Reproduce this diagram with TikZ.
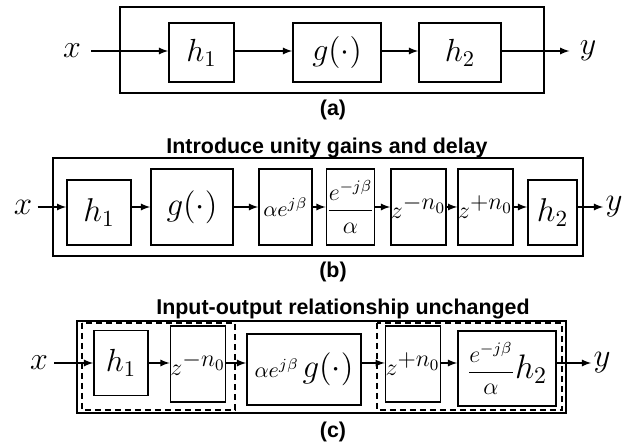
\RequirePackage{fix-cm}
\documentclass[tikz,border=0pt]{standalone}
\usepackage{amsmath}
\usepackage{fontspec}
\setsansfont{Liberation Sans}
\usetikzlibrary{arrows,positioning}
\newcommand{\fsz}[1]{\fontsize{#1}{#1}\selectfont}

\tikzset{
  blk/.style={draw, line width=0.8pt, inner sep=0pt},
  sig/.style={inner sep=2pt},
  ttl/.style={font=\sffamily\bfseries\fsz{10.7}},
  enc/.style={line width=1pt},
  grp/.style={line width=0.8pt, dash pattern=on 3pt off 2pt},
  flow/.style={->, >=latex, line width=0.6pt}
}

\begin{document}
\begin{tikzpicture}[x=0.5pt,y=-0.5pt]
  \useasboundingbox (0,0) rectangle (629,442);

  %%% (a) original chain
  \draw[enc] (120,7) rectangle (544,93) ;  %outer box
  \node[sig, font=\fsz{16}, inner sep=5pt] (xa) at (72,51) {$x$};
  \node[blk, minimum width=32.5pt, minimum height=29.5pt, font=\fsz{16}] (h1a) at (201.5,52.5) {$h_1$};
  \node[blk, minimum width=44pt, minimum height=29.5pt, font=\fsz{16}] (ga) at (337,52.5) {$g(\cdot)$};
  \node[blk, minimum width=41pt, minimum height=29.5pt, font=\fsz{16}] (h2a) at (460,52.5) {$h_2$};
  \node[sig, font=\fsz{16}, inner sep=5pt] (ya) at (588,51) {$y$};
  \draw[flow] (xa) -- (xa -| h1a.west);
  \draw[flow] (h1a.east |- xa) -- (xa -| ga.west);
  \draw[flow] (ga.east |- xa) -- (xa -| h2a.west);
  \draw[flow] (h2a.east |- ya) -- (ya);
  \node[ttl] (lba) at (333,110) {(a)};

  %%% (b) unity gains and delay
  \node[ttl] (ttb) at (327,148) {Introduce unity gains and delay};
  \draw[enc] (53,158) rectangle (583,256) ;  %outer box
  \node[sig, font=\fsz{16.5}, inner sep=2.5pt] (xb) at (23,207) {$x$};
  \node[blk, minimum width=32pt, minimum height=32.5pt, font=\fsz{16.5}] (h1b) at (99,212.5) {$h_1$};
  \node[blk, minimum width=41pt, minimum height=38pt, font=\fsz{16.5}] (gb) at (192,207) {$g(\cdot)$};
  \node[blk, minimum width=26.5pt, minimum height=38pt, font=\fsz{11}] (ab) at (285.5,207) {$\alpha e^{j\beta}$};
  \node[blk, minimum width=23.5pt, minimum height=38pt, font=\fsz{12}] (ib) at (350.5,207) {$\dfrac{e^{-j\beta}}{\alpha}$};
  \node[blk, minimum width=26.5pt, minimum height=38pt, font=\fsz{12}] (zmb) at (418.5,207) {$z^{\textstyle -n_0}$};
  \node[blk, minimum width=26.5pt, minimum height=38pt, font=\fsz{12}] (zpb) at (485.5,207) {$z^{\textstyle +n_0}$};
  \node[blk, minimum width=24.5pt, minimum height=32.5pt, font=\fsz{16.5}] (h2b) at (552.5,212.5) {$h_2$};
  \node[sig, font=\fsz{16.5}, inner sep=1pt] (yb) at (614,207) {$y$};
  \draw[flow] (xb) -- (xb -| h1b.west);
  \draw[flow] (h1b.east |- gb) -- (gb);
  \draw[flow] (gb) -- (ab);
  \draw[flow] (ab) -- (ib);
  \draw[flow] (ib) -- (zmb);
  \draw[flow] (zmb) -- (zpb);
  \draw[flow] (zpb) -- (zpb -| h2b.west);
  \draw[flow] (h2b.east |- yb) -- (yb);
  \node[ttl] (lbb) at (333,272) {(b)};

  %%% (c) regrouped blocks
  \node[ttl] (ttc) at (343,309) {Input-output relationship unchanged};
  \draw[enc] (77,321) rectangle (566,413) ;  %outer box
  \draw[grp] (82,323) rectangle (235,410) ;  %left group
  \draw[grp] (377,323) rectangle (562,410) ; %right group
  \node[sig, font=\fsz{16}, inner sep=3pt] (xc) at (39,363) {$x$};
  \node[blk, minimum width=27pt, minimum height=32.5pt, font=\fsz{16}] (h1c) at (121,363) {$h_1$};
  \node[blk, minimum width=26pt, minimum height=38pt, font=\fsz{12}] (zmc) at (198,364) {$z^{\textstyle -n_0}$};
  \node[blk, minimum width=57pt, minimum height=35.5pt] (gc) at (304,369.5) {\fsz{11}$\alpha e^{j\beta}$\,\fsz{16.5}$g(\cdot)$};
  \node[blk, minimum width=26pt, minimum height=38pt, font=\fsz{12}] (zpc) at (413,364) {$z^{\textstyle +n_0}$};
  \node[blk, minimum width=49pt, minimum height=37.5pt] (hc) at (507,368.5) {\fsz{12}$\dfrac{e^{-j\beta}}{\alpha}$\fsz{17}$h_2$};
  \node[sig, font=\fsz{16.5}, inner sep=1pt] (yc) at (602,363) {$y$};
  \draw[flow] (xc) -- (xc -| h1c.west);
  \draw[flow] (h1c.east |- xc) -- (h1c.east -| zmc.west);
  \draw[flow] (zmc.east |- xc) -- (xc -| gc.west);
  \draw[flow] (gc.east |- xc) -- (xc -| zpc.west);
  \draw[flow] (zpc.east |- xc) -- (xc -| hc.west);
  \draw[flow] (hc.east |- yc) -- (yc);
  \node[ttl] (lbc) at (333,432) {(c)};
\end{tikzpicture}
\end{document}
